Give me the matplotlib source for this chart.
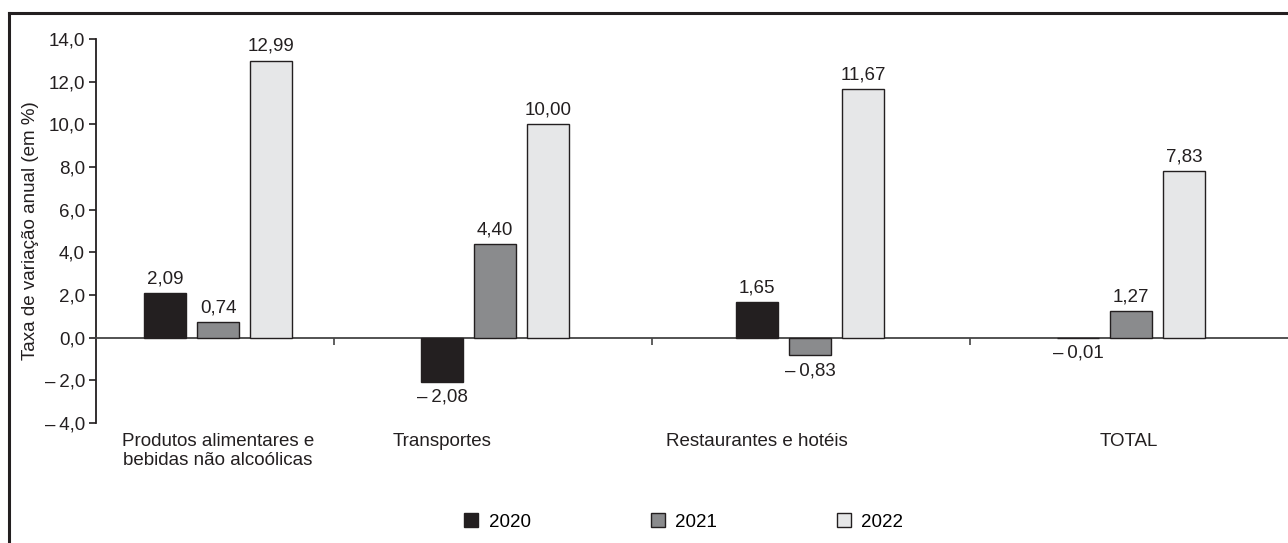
import matplotlib
matplotlib.use("Agg")
import matplotlib.pyplot as plt
from matplotlib.lines import Line2D
from matplotlib.patches import Patch
import numpy as np

plt.rcParams['font.family'] = ['Liberation Sans', 'DejaVu Sans']
plt.rcParams['font.size'] = 13.5

# data
categories = ['Produtos alimentares e\nbebidas não alcoólicas', 'Transportes',
              'Restaurantes e hotéis', 'TOTAL']
years = ['2020', '2021', '2022']
v2020 = [2.09, -2.08, 1.65, -0.01]
v2021 = [0.74, 4.40, -0.83, 1.27]
v2022 = [12.99, 10.00, 11.67, 7.83]
yticks = [-4, -2, 0, 2, 4, 6, 8, 10, 12, 14]

# layout (axis units: one category band = 1)
group_centers = [0.384, 1.255, 2.245, 3.255]
label_centers = [0.384, 1.088, 2.078, 3.247]
separators = [0.75, 1.75, 2.75]
bar_w = 0.132
step = 0.167
colors = ['#231f20', '#8a8b8d', '#e6e7e8']
edge = '#231f20'


def fmt(v, dec):
    s = f"{abs(v):.{dec}f}".replace('.', ',')
    return ('\u2013\u2009' + s) if v < 0 else s


fig = plt.figure(figsize=(12.88, 5.43), dpi=100)
ax = fig.add_axes([96 / 1288, 1 - 423 / 543, 1 - 96 / 1288, 384 / 543])

series = [v2020, v2021, v2022]
for k, vals in enumerate(series):
    xs = np.array(group_centers) + (k - 1) * step
    bars = ax.bar(xs, vals, width=bar_w, color=colors[k], edgecolor=edge,
                  linewidth=1.0, zorder=3)
    for b, v in zip(bars, vals):
        x = b.get_x() + b.get_width() / 2
        if v >= 0:
            ax.annotate(fmt(v, 2), (x, v), xytext=(0, 4), textcoords='offset points',
                        ha='center', va='bottom', color='#231f20')
        else:
            ax.annotate(fmt(v, 2), (x, v), xytext=(0, -5), textcoords='offset points',
                        ha='center', va='top', color='#231f20')

ax.set_xlim(0, 1192 / 318)
ax.set_ylim(-4, 14)
ax.set_yticks(yticks)
ax.set_yticklabels([fmt(t, 1) for t in yticks])

ax.spines['top'].set_visible(False)
ax.spines['right'].set_visible(False)
ax.spines['bottom'].set_position(('data', 0))
ax.spines['bottom'].set_color('#444444')
ax.spines['bottom'].set_linewidth(1.3)
ax.spines['left'].set_color('#231f20')
ax.spines['left'].set_linewidth(1.3)
ax.tick_params(axis='y', direction='out', length=5, width=1.2, color='#231f20',
               labelcolor='#231f20', labelsize=13.5, pad=3)
ax.set_xticks(separators)
ax.set_xticklabels([])
ax.tick_params(axis='x', direction='out', length=5, width=1.2, color='#444444')

trans = ax.get_xaxis_transform()
for xc, lab in zip(label_centers, categories):
    ax.text(xc, -0.025, lab, transform=trans, ha='center', va='top',
            color='#231f20', linespacing=1.15)

ax.set_ylabel('Taxa de variação anual (em %)', color='#231f20')
ax.yaxis.set_label_coords(-0.048, 0.5)

handles = [Patch(facecolor=c, edgecolor=edge, linewidth=1.0) for c in colors]
fig.legend(handles, years, loc='center', bbox_to_anchor=(0.531, 0.039), ncol=3,
           frameon=False, handlelength=0.75, handleheight=0.75, handletextpad=0.55,
           columnspacing=6.4)

# outer frame (top and left)
fig.add_artist(Line2D([9 / 1288, 1], [1 - 13 / 543, 1 - 13 / 543], color='#231f20',
                      linewidth=2.2, transform=fig.transFigure))
fig.add_artist(Line2D([9 / 1288, 9 / 1288], [0, 1 - 13 / 543], color='#231f20',
                      linewidth=2.2, transform=fig.transFigure))

fig.savefig('out.png', dpi=100)
